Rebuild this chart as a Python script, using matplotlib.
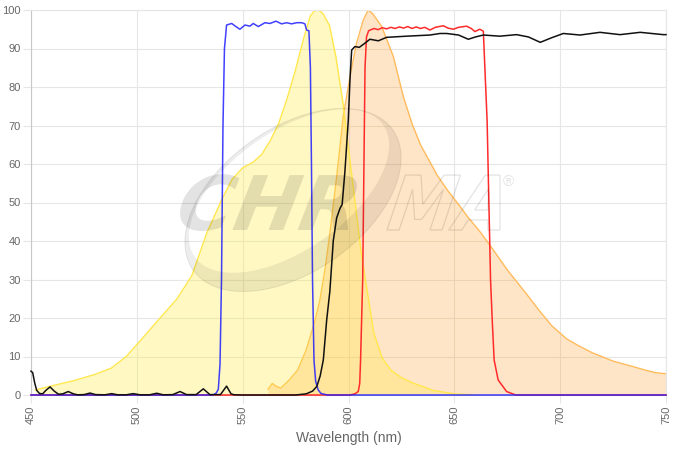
import matplotlib
matplotlib.use("Agg")
import numpy as np
import matplotlib.pyplot as plt
from matplotlib.transforms import Affine2D
from matplotlib.textpath import TextPath
from matplotlib.patches import PathPatch, Ellipse
from matplotlib.path import Path
from matplotlib.font_manager import FontProperties

# excitation spectrum (yellow)
ex_wl = [452, 460, 470, 480, 488, 495, 501, 511, 519, 526, 533, 540, 545, 550, 555, 559,
         563, 567, 571, 575, 579, 582, 584, 586, 588, 591, 594, 597.2, 600, 603, 606, 609.5,
         612, 616, 620, 625, 631, 640, 650, 660]
ex_val = [1.3, 2.4, 3.7, 5.3, 7, 10, 13.7, 20, 25, 31, 42, 50.6, 56, 59, 60.5, 62.5,
          66, 70.5, 77, 84.5, 93, 98.5, 99.8, 100, 99, 96, 88, 76.6, 64, 50.6, 37, 24.7,
          16, 9.5, 6.5, 4.5, 3, 1.2, 0.3, 0]

# emission spectrum (orange)
em_wl = [562, 564, 566, 568, 572, 576, 580, 584, 586.5, 589, 591.2, 594.4, 597.5, 600.7,
         603.8, 607, 609.3, 611.5, 615.7, 621.2, 625.9, 630, 634, 638, 642, 647, 652, 656,
         662, 668, 675, 684, 690, 696, 703, 708, 715, 725, 733.6, 740, 745, 750]
em_val = [1.5, 3, 2.2, 1.8, 3.9, 6.5, 11.7, 19, 24.7, 33, 42, 56.7, 72.3, 82.7,
          91.4, 97.4, 100, 99, 95.7, 87.9, 77.5, 70.5, 65, 61, 57, 53, 49.5, 46.5,
          42.5, 38, 32.5, 26.3, 22, 18, 14.6, 13, 11, 8.8, 7.5, 6.5, 5.8, 5.5]

# excitation filter (blue)
bf_wl = [450, 536, 537.5, 538.5, 539.3, 540, 540.7, 541.4, 542.4, 544.8, 546.8, 548.7,
         551.1, 553.4, 555, 557.4, 560.5, 562.9, 565.7, 568.4, 570.8, 573.1, 575.5, 577.9,
         579.4, 580.2, 581.3, 582, 582.5, 583, 583.7, 584.5, 585.7, 587, 590, 750]
bf_val = [0, 0, 0.5, 1.5, 8, 30, 70, 90, 96.1, 96.5, 95.7, 95,
          96.1, 95.8, 96.5, 95.7, 96.7, 96.5, 97.1, 96.4, 96.7, 96.4, 96.7, 96.7,
          96.4, 94.8, 94.6, 85, 60, 30, 9, 3.5, 1.3, 0.4, 0, 0]

# emission filter (red)
rf_wl = [450, 600.7, 603, 604.6, 605.3, 605.7, 606.7, 607.3, 607.8, 608.5, 609.5, 612,
         614, 616, 618, 620, 622, 624, 626, 628, 630, 632, 634, 636, 638.5, 641, 644.8,
         647, 649.5, 652, 655.8, 658, 659.7, 662, 663.7, 665.5, 667.1, 667.9, 668.8,
         670.7, 674.7, 679, 750]
rf_val = [0, 0, 0.3, 0.9, 3, 9, 30, 60, 85, 93, 94.6, 95.2,
          94.9, 95.4, 95.1, 95.5, 95.2, 95.6, 95.3, 95.7, 95.2, 95.6, 95.2, 95.5, 94.8, 95.5, 95.9,
          95.3, 95, 95.5, 95.8, 95.2, 94.4, 95, 94.5, 71, 30, 19.5, 9.1,
          3.9, 0.9, 0, 0]

# dichroic (black)
dc_wl = [450, 450.8, 451.8, 452.7, 454, 455.5, 457, 459, 461, 463, 465, 467.6, 470, 472,
         475, 477.9, 480.5, 485, 488.1, 491, 495, 498.3, 501.5, 506, 509.4, 512.5, 517,
         520.4, 523.5, 528, 531.4, 534.5, 539.5, 542.4, 544.5, 546, 550, 575, 580, 583,
         585, 586.6, 588.1, 589.7, 591.2, 592.8, 594.4, 596, 597, 598.3, 599.9, 600.7,
         601.5, 603, 605.1, 607.8, 610.1, 614.1, 618, 627.5, 638.5, 643.2, 646.4, 652,
         656.6, 660, 663.7, 671.5, 679.4, 685, 690.6, 696, 701.5, 709.4, 718.8, 728.3,
         737.8, 748.7, 750]
dc_val = [6.2, 5.8, 3, 1.2, 0.4, 0.3, 1.2, 2.1, 1, 0.2, 0.3, 0.9, 0.3, 0.05,
          0.1, 0.5, 0.1, 0.05, 0.35, 0.05, 0.05, 0.35, 0.05, 0.05, 0.45, 0.05, 0.1,
          0.9, 0.1, 0.1, 1.6, 0.1, 0.1, 2.3, 0.3, 0.05, 0, 0, 0.3, 1,
          2.2, 4.9, 9.1, 19.5, 27, 40, 46, 48.5, 49.5, 58, 71.4, 82,
          89.6, 90.5, 90.3, 91.4, 92.4, 92, 92.9, 93.2, 93.5, 93.9, 93.9, 93.5,
          92.4, 93, 93.5, 93.2, 93.6, 93, 91.6, 92.8, 93.9, 93.5, 94.2, 93.6,
          94.2, 93.6, 93.6]

x_ticks = [450, 500, 550, 600, 650, 700, 750]
y_ticks = list(range(0, 101, 10))

plt.rcParams['font.family'] = ['Liberation Sans', 'DejaVu Sans']

fig = plt.figure(figsize=(6.82, 4.5), dpi=100)
ax = fig.add_axes([31 / 682, 55 / 450, 635 / 682, 385 / 450])

# watermark, drawn in pixel coords (origin bottom-left)
px = Affine2D().scale(1 / 682, 1 / 450) + fig.transFigure
wm = (0, 0, 0, 0.11)
wm_ring = (0, 0, 0, 0.07)

fp = FontProperties(family='DejaVu Sans', weight='bold', style='italic')
def logo_text(s, x0, x1, base, cap, filled):
    tp = TextPath((0, 0), s, size=1, prop=fp)
    tp = Affine2D().skew_deg(10, 0).transform_path(tp)
    ext = tp.get_extents()
    t = Affine2D().translate(-ext.x0, 0).scale((x1 - x0) / ext.width, cap / 0.73).translate(x0, base)
    p = t.transform_path(tp)
    if filled:
        patch = PathPatch(p, facecolor=wm, edgecolor='none', transform=px, zorder=0.5)
    else:
        patch = PathPatch(p, facecolor='none', edgecolor=wm, lw=0.9, transform=px, zorder=0.5)
    fig.add_artist(patch)

logo_text("CHR", 180, 357, 450 - 230, 55, True)
logo_text("MA", 387, 500, 450 - 230, 55, False)
fig.text(508 / 682, 1 - 182 / 450, "®", color=wm, fontsize=11, ha='center', va='center')

# swoosh ring: thin outline plus a crescent on the lower right
cx, cy, a, b, th = 293, 450 - 200, 122, 72, np.radians(35)
t = np.linspace(0, 2 * np.pi, 200)
def ell(cx, cy, a, b):
    x = a * np.cos(t)
    y = b * np.sin(t)
    return np.c_[cx + x * np.cos(th) - y * np.sin(th), cy + x * np.sin(th) + y * np.cos(th)]
outer = ell(cx, cy, a, b)
inner = ell(cx - 4, cy + 9, a - 7, b - 13)[::-1]
ring = Path(np.vstack([outer, inner]),
            [Path.MOVETO] + [Path.LINETO] * 199 + [Path.MOVETO] + [Path.LINETO] * 199)
fig.add_artist(PathPatch(ring, facecolor=wm_ring, edgecolor='none', transform=px, zorder=0.5))
fig.add_artist(Ellipse((cx, cy), 2 * a, 2 * b, angle=35, facecolor='none',
                       edgecolor=wm_ring, lw=0.8, transform=px, zorder=0.5))

ax.set_facecolor('none')
ax.patch.set_alpha(0)

# spectra
ax.fill_between(em_wl, em_val, color='#ff8c00', alpha=0.22, lw=0, zorder=2)
ax.plot(em_wl, em_val, color='#ffbb5c', lw=1, zorder=2.1)
ax.fill_between(ex_wl, ex_val, color='#ffeb3b', alpha=0.3, lw=0, zorder=2.2)
ax.plot(ex_wl, ex_val, color='#ffe74c', lw=1, zorder=2.3)

# filters
ax.plot(rf_wl, rf_val, color='#ff2a2a', lw=1.1, zorder=3, clip_on=False)
ax.plot(bf_wl, bf_val, color='#1f1fff', lw=1.1, zorder=3.1, alpha=0.85, clip_on=False)
ax.plot(dc_wl, dc_val, color='#111111', lw=1.1, zorder=3.2, clip_on=False)

ax.set_xlim(450, 750)
ax.set_ylim(0, 100)
ax.set_xticks(x_ticks)
ax.set_yticks(y_ticks)
ax.set_xticklabels([str(v) for v in x_ticks], rotation=90)
ax.grid(True, color='#e6e6e6', lw=0.8, zorder=0)
ax.set_axisbelow(True)
ax.tick_params(length=5.8, width=0.8, color='#e6e6e6', pad=1.5,
               labelcolor='#666666', labelsize=8)
for s in ('top', 'right'):
    ax.spines[s].set_color('#e6e6e6')
    ax.spines[s].set_linewidth(0.8)
for s in ('left', 'bottom'):
    ax.spines[s].set_color('#c8c8c8')
    ax.spines[s].set_linewidth(0.8)
ax.set_xlabel("Wavelength (nm)", color='#666666', fontsize=10, labelpad=5)

fig.savefig("out.png", dpi=100)
